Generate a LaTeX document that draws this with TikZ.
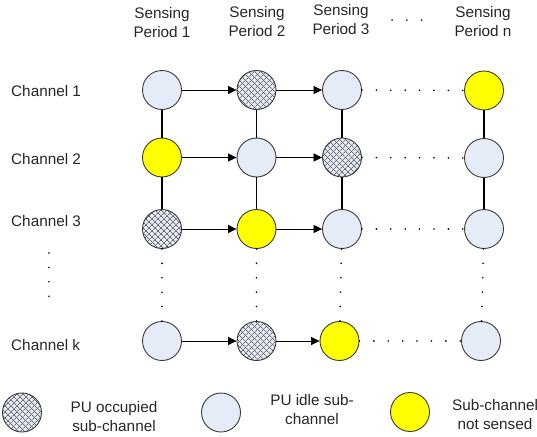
\documentclass[tikz,border=0pt]{standalone}
\usepackage{fontspec}
\setmainfont{Liberation Sans}
\usetikzlibrary{arrows.meta,patterns.meta}

\definecolor{idle}{HTML}{E6ECF7}
\definecolor{rim}{HTML}{3A3A3A}
\definecolor{hatch}{HTML}{666666}
\definecolor{txt}{HTML}{262626}
\definecolor{unsensed}{HTML}{FFFF00}

\begin{document}
\begin{tikzpicture}[x=1pt,y=-1pt,
  slot/.style={circle,draw=rim,line width=0.9pt,minimum size=39pt,inner sep=0pt},
  idleslot/.style={slot,fill=idle},
  yellowslot/.style={slot,fill=unsensed},
  busyslot/.style={slot,
    preaction={fill=idle},
    preaction={pattern={Lines[angle=45,distance=4pt,line width=0.8pt]},pattern color=hatch},
    preaction={pattern={Lines[angle=-45,distance=4pt,line width=0.8pt]},pattern color=hatch}},
  hop/.style={line width=0.8pt,-{Triangle[length=8.5pt,width=8pt]}},
  link/.style={line width=1.9pt},
  gap/.style={line width=1.8pt,line cap=round,dash pattern=on 0pt off 14.4pt},
  lbl/.style={font=\fontsize{15.3pt}{19pt}\selectfont,text=txt,align=center,inner sep=0pt}
]
\useasboundingbox (0,0) rectangle (537,436);

% column headers
\node[lbl] (h1) at (162,22.5) {Sensing\\Period 1};
\node[lbl] (h2) at (257,21.5) {Sensing\\Period 2};
\node[lbl] (h3) at (341,19.5) {Sensing\\Period 3};
\node[lbl] (hdots) at (407,20.7) {.\hspace{10.6pt}.\hspace{10.6pt}.};
\node[lbl] (hn) at (483,21.5) {Sensing\\Period n};

% row labels
\node[lbl,anchor=west] (ch1) at (11,90.7) {Channel 1};
\node[lbl,anchor=west] (ch2) at (11,159) {Channel 2};
\node[lbl,anchor=west] (ch3) at (11,221) {Channel 3};
\node[lbl,anchor=west] (chk) at (11,345) {Channel k};
\coordinate (vtop) at (49,253);
\coordinate (vbot) at (49,310.5);
\draw[gap] (vtop) -- (vbot);

% grid of sub-channel states
\node[idleslot]   (a1) at (162,90) {};
\node[busyslot]   (a2) at (256.5,90) {};
\node[idleslot]   (a3) at (342,90) {};
\node[yellowslot] (an) at (484,90.5) {};

\node[yellowslot] (b1) at (162,157.5) {};
\node[idleslot]   (b2) at (256.5,157.5) {};
\node[busyslot]   (b3) at (342,157.5) {};
\node[idleslot]   (bn) at (484,158) {};

\node[busyslot]   (c1) at (162,229) {};
\node[yellowslot] (c2) at (256.5,229) {};
\node[idleslot]   (c3) at (342,229) {};
\node[idleslot]   (cn) at (484,229) {};

\node[idleslot]   (k1) at (162,341) {};
\node[busyslot]   (k2) at (256.5,341) {};
\node[yellowslot] (k3) at (339.5,341) {};
\node[idleslot]   (kn) at (481,341) {};

% transitions between periods
\foreach \r in {a,b,c,k}{
  \draw[hop] (\r1) -- (\r2);
  \draw[hop] (\r2) -- (\r3);
  \draw[gap] (\r3) -- (\r n);
}

% links between channels
\foreach \c in {1,2,3,n}{
  \draw[link] (a\c) -- (b\c);
  \draw[link] (b\c) -- (c\c);
  \draw[gap] (c\c) -- (k\c);
}

% legend
\node[busyslot] (lg1) at (22,412.5) {};
\node[lbl] (lt1) at (114,416.5) {PU occupied\\sub-channel};
\node[idleslot] (lg2) at (221,412.5) {};
\node[lbl] (lt2) at (312,409.5) {PU idle sub-\\channel};
\node[yellowslot] (lg3) at (410,412) {};
\node[lbl] (lt3) at (495,415) {Sub-channel\\not sensed};
\end{tikzpicture}
\end{document}
